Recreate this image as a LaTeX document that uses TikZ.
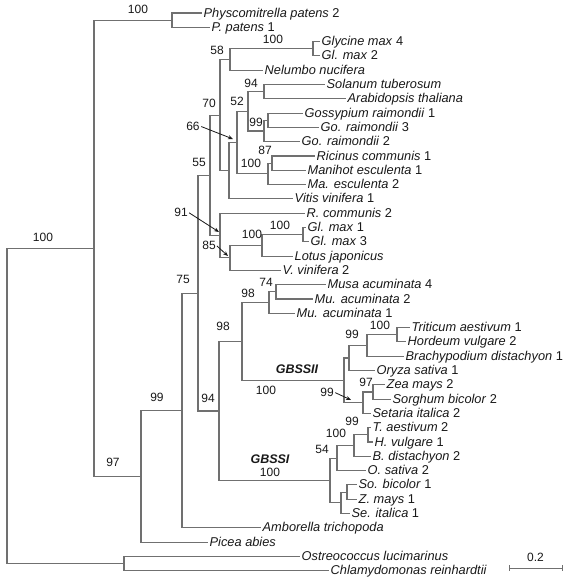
\documentclass[tikz,border=0pt]{standalone}
\usepackage{fontspec}
\setmainfont{Liberation Sans}
\usetikzlibrary{positioning,arrows.meta,calc}
\definecolor{branchc}{RGB}{112,112,112}
\definecolor{inkc}{RGB}{25,25,25}
\tikzset{
  br/.style     = {draw=branchc, line width=1.1pt},
  leaf/.style   = {anchor=west, inner xsep=1.5pt, inner ysep=0pt, text height=9pt,
                   text depth=1pt, font=\fontsize{12.8}{14}\selectfont, text=inkc},
  bs/.style     = {inner sep=0pt, font=\fontsize{12}{14}\selectfont, text=inkc},
  grp/.style    = {inner sep=0pt, font=\fontsize{12.5}{14}\selectfont\bfseries\itshape, text=inkc},
  ptr/.style    = {-{Stealth[length=5pt,width=4pt]}, line width=0.8pt, draw=inkc, shorten <=1.5pt},
}
\newcommand{\taxon}[2]{\textit{#1}\ #2}

\begin{document}
\begin{tikzpicture}[x=1pt,y=-1pt]
\path[fill=white] (0,0) rectangle (568,581);
\useasboundingbox (0,0) rectangle (568,581);

% leaves
\node[leaf] (ppat2) at (202,13.0) {\taxon{Physcomitrella patens}{2}};
\node[leaf] (ppat1) at (210,27.3) {\taxon{P. patens}{1}};
\node[leaf] (gmax4) at (320,41.6) {\taxon{Glycine max}{4}};
\node[leaf] (gmax2) at (320,55.9) {\taxon{Gl. max}{2}};
\node[leaf] (nnuc)  at (263,70.2) {\textit{Nelumbo nucifera}};
\node[leaf] (stub)  at (325,84.5) {\textit{Solanum tuberosum}};
\node[leaf] (atha)  at (346,98.8) {\textit{Arabidopsis thaliana}};
\node[leaf] (grai1) at (303,113.1) {\taxon{Gossypium raimondii}{1}};
\node[leaf] (grai3) at (319,127.4) {\taxon{Go. raimondii}{3}};
\node[leaf] (grai2) at (300,141.7) {\taxon{Go. raimondii}{2}};
\node[leaf] (rcom1) at (315,156.0) {\taxon{Ricinus communis}{1}};
\node[leaf] (mesc1) at (306,170.3) {\taxon{Manihot esculenta}{1}};
\node[leaf] (mesc2) at (306,184.6) {\taxon{Ma. esculenta}{2}};
\node[leaf] (vvin1) at (293,198.9) {\taxon{Vitis vinifera}{1}};
\node[leaf] (rcom2) at (305,213.2) {\taxon{R. communis}{2}};
\node[leaf] (gmax1) at (306,227.5) {\taxon{Gl. max}{1}};
\node[leaf] (gmax3) at (309,241.8) {\taxon{Gl. max}{3}};
\node[leaf] (ljap)  at (293,256.1) {\textit{Lotus japonicus}};
\node[leaf] (vvin2) at (281,270.4) {\taxon{V. vinifera}{2}};
\node[leaf] (macu4) at (326,284.7) {\taxon{Musa acuminata}{4}};
\node[leaf] (macu2) at (313,299.0) {\taxon{Mu. acuminata}{2}};
\node[leaf] (macu1) at (295,313.3) {\taxon{Mu. acuminata}{1}};
\node[leaf] (taes1) at (410,327.6) {\taxon{Triticum aestivum}{1}};
\node[leaf] (hvul2) at (406,341.9) {\taxon{Hordeum vulgare}{2}};
\node[leaf] (bdis1) at (404,356.2) {\taxon{Brachypodium distachyon}{1}};
\node[leaf] (osat1) at (375,370.5) {\taxon{Oryza sativa}{1}};
\node[leaf] (zmay2) at (385,384.8) {\taxon{Zea mays}{2}};
\node[leaf] (sbic2) at (391,399.1) {\taxon{Sorghum bicolor}{2}};
\node[leaf] (sita2) at (371,413.4) {\taxon{Setaria italica}{2}};
\node[leaf] (taes2) at (371,427.7) {\taxon{T. aestivum}{2}};
\node[leaf] (hvul1) at (373,442.0) {\taxon{H. vulgare}{1}};
\node[leaf] (bdis2) at (371,456.3) {\taxon{B. distachyon}{2}};
\node[leaf] (osat2) at (366,470.6) {\taxon{O. sativa}{2}};
\node[leaf] (sbic1) at (357,484.9) {\taxon{So. bicolor}{1}};
\node[leaf] (zmay1) at (357,499.2) {\taxon{Z. mays}{1}};
\node[leaf] (sita1) at (350,513.5) {\taxon{Se. italica}{1}};
\node[leaf] (atri)  at (261,527.8) {\textit{Amborella trichopoda}};
\node[leaf] (pabi)  at (208,542.1) {\textit{Picea abies}};
\node[leaf] (oluc)  at (300,556.4) {\textit{Ostreococcus lucimarinus}};
\node[leaf] (crei)  at (329,570.7) {\textit{Chlamydomonas reinhardtii}};

% internal nodes
\coordinate (nroot)  at (7,405.9);
\coordinate (nall)   at (94,248.2);
\coordinate (nmoss)  at (172,20.15);
\coordinate (nchl)   at (124,563.55);
\coordinate (nseed)  at (141,476.3);
\coordinate (nang)   at (182,410.45);
\coordinate (nc75)   at (198,293.1);
\coordinate (nd55)   at (210,175.3);
\coordinate (nf70)   at (220,115.1);
\coordinate (nh58)   at (230,59.5);
\coordinate (ngly)   at (313,48.75);
\coordinate (ni66)   at (229,170.75);
\coordinate (nk66)   at (237,142.6);
\coordinate (nr52)   at (248,111.3);
\coordinate (nl94)   at (264,91.65);
\coordinate (nq99)   at (264,131.0);
\coordinate (npg)    at (268,120.25);
\coordinate (nm100)  at (268,173.9);
\coordinate (ns87)   at (272,163.15);
\coordinate (ng91)   at (220,235.55);
\coordinate (ng85)   at (230,257.9);
\coordinate (nt100)  at (262,245.4);
\coordinate (nu100)  at (303,234.65);
\coordinate (ne94)   at (219,410.95);
\coordinate (nv98)   at (242,341.5);
\coordinate (nw98)   at (269,302.6);
\coordinate (nx74)   at (276,291.85);
\coordinate (ngbss2) at (344,380.35);
\coordinate (no99)   at (349,358.0);
\coordinate (ny99)   at (367,345.5);
\coordinate (naa100) at (397,334.75);
\coordinate (nz99)   at (363,402.7);
\coordinate (nbb97)  at (373,391.95);
\coordinate (ngbss1) at (330,480.45);
\coordinate (ncc54)  at (337,458.1);
\coordinate (nee100) at (354,445.6);
\coordinate (nff99)  at (368,434.85);
\coordinate (ngg)    at (341,502.8);
\coordinate (nhh)    at (347,492.05);

% branches
\draw[br] (nroot) |- (nall);   \draw[br] (nroot) |- (nchl);
\draw[br] (nall) |- (nmoss);   \draw[br] (nall) |- (nseed);
\draw[br] (nmoss) |- (ppat2);  \draw[br] (nmoss) |- (ppat1);
\draw[br] (nchl) |- (oluc);    \draw[br] (nchl) |- (crei);
\draw[br] (nseed) |- (nang);   \draw[br] (nseed) |- (pabi);
\draw[br] (nang) |- (nc75);    \draw[br] (nang) |- (atri);
\draw[br] (nc75) |- (nd55);    \draw[br] (nc75) |- (ne94);
\draw[br] (nd55) |- (nf70);    \draw[br] (nd55) |- (ng91);
\draw[br] (nf70) |- (nh58);    \draw[br] (nf70) |- (ni66);
\draw[br] (nh58) |- (ngly);    \draw[br] (nh58) |- (nnuc);
\draw[br] (ngly) |- (gmax4);   \draw[br] (ngly) |- (gmax2);
\draw[br] (ni66) |- (nk66);    \draw[br] (ni66) |- (vvin1);
\draw[br] (nk66) |- (nr52);    \draw[br] (nk66) |- (nm100);
\draw[br] (nr52) |- (nl94);    \draw[br] (nr52) |- (nq99);
\draw[br] (nl94) |- (stub);    \draw[br] (nl94) |- (atha);
\draw[br] (nq99) |- (npg);     \draw[br] (nq99) |- (grai2);
\draw[br] (npg) |- (grai1);    \draw[br] (npg) |- (grai3);
\draw[br] (nm100) |- (ns87);   \draw[br] (nm100) |- (mesc2);
\draw[br] (ns87) |- (rcom1);   \draw[br] (ns87) |- (mesc1);
\draw[br] (ng91) |- (rcom2);   \draw[br] (ng91) |- (ng85);
\draw[br] (ng85) |- (nt100);   \draw[br] (ng85) |- (vvin2);
\draw[br] (nt100) |- (nu100);  \draw[br] (nt100) |- (ljap);
\draw[br] (nu100) |- (gmax1);  \draw[br] (nu100) |- (gmax3);
\draw[br] (ne94) |- (nv98);    \draw[br] (ne94) |- (ngbss1);
\draw[br] (nv98) |- (nw98);    \draw[br] (nv98) |- (ngbss2);
\draw[br] (nw98) |- (nx74);    \draw[br] (nw98) |- (macu1);
\draw[br] (nx74) |- (macu4);   \draw[br] (nx74) |- (macu2);
\draw[br] (ngbss2) |- (no99);  \draw[br] (ngbss2) |- (nz99);
\draw[br] (no99) |- (ny99);    \draw[br] (no99) |- (osat1);
\draw[br] (ny99) |- (naa100);  \draw[br] (ny99) |- (bdis1);
\draw[br] (naa100) |- (taes1); \draw[br] (naa100) |- (hvul2);
\draw[br] (nz99) |- (nbb97);   \draw[br] (nz99) |- (sita2);
\draw[br] (nbb97) |- (zmay2);  \draw[br] (nbb97) |- (sbic2);
\draw[br] (ngbss1) |- (ncc54); \draw[br] (ngbss1) |- (ngg);
\draw[br] (ncc54) |- (nee100); \draw[br] (ncc54) |- (osat2);
\draw[br] (nee100) |- (nff99); \draw[br] (nee100) |- (bdis2);
\draw[br] (nff99) |- (taes2);  \draw[br] (nff99) |- (hvul1);
\draw[br] (ngg) |- (nhh);      \draw[br] (ngg) |- (sita1);
\draw[br] (nhh) |- (sbic1);    \draw[br] (nhh) |- (zmay1);

% bootstrap values
\node[bs] (l100a)  at (43,237)  {100};
\node[bs] (l100m)  at (138,9)   {100};
\node[bs] (l97)    at (113,462) {97};
\node[bs] (l99a)   at (157,397) {99};
\node[bs] (l75)    at (183,279) {75};
\node[bs] (l55)    at (199,162) {55};
\node[bs] (l70)    at (209,103) {70};
\node[bs] (l58)    at (217,50)  {58};
\node[bs] (l100g)  at (273,39)  {100};
\node[bs] (l94d)   at (251,83)  {94};
\node[bs] (l52)    at (237,101) {52};
\node[bs] (l99g)   at (256,122) {99};
\node[bs] (l87)    at (265,150) {87};
\node[bs] (l100r)  at (251,163) {100};
\node[bs] (l66)    at (193,126) {66};
\node[bs] (l91)    at (181,212) {91};
\node[bs] (l85)    at (209,245) {85};
\node[bs] (l100l)  at (252,234) {100};
\node[bs] (l100x)  at (280,225) {100};
\node[bs] (l74)    at (266,282) {74};
\node[bs] (l98m)   at (248,293) {98};
\node[bs] (l98v)   at (223,326) {98};
\node[bs] (l94m)   at (208,398) {94};
\node[bs] (l100s2) at (266,390) {100};
\node[bs] (l99y)   at (352,334) {99};
\node[bs] (l100t)  at (380,325) {100};
\node[bs] (l99z)   at (327,392) {99};
\node[bs] (l97z)   at (366,382) {97};
\node[bs] (l100s1) at (270,472) {100};
\node[bs] (l54)    at (322,449) {54};
\node[bs] (l100b)  at (336,433) {100};
\node[bs] (l99t)   at (352,421) {99};
\node[grp] (gbss2) at (297,369) {GBSSII};
\node[grp] (gbss1) at (270,459) {GBSSI};

% pointers to short branches
\coordinate (a66) at (233,139);
\coordinate (a91) at (219,232);
\coordinate (a85) at (228,256);
\coordinate (a99) at (351,400);
\draw[ptr] (l66.east) -- (a66);
\draw[ptr] (l91.east) -- (a91);
\draw[ptr] (l85.east) -- (a85);
\draw[ptr] (l99z.east) -- (a99);

% scale bar
\coordinate (sbl) at (509,568);
\coordinate (sbr) at (562,568);
\coordinate (sbm) at ($(sbl)!0.5!(sbr)$);
\draw[br, line width=0.9pt] (sbl) -- (sbr);
\draw[br, line width=0.9pt] ([yshift=3pt]sbl) -- ([yshift=-3pt]sbl);
\draw[br, line width=0.9pt] ([yshift=3pt]sbr) -- ([yshift=-3pt]sbr);
\node[bs, above=6pt of sbm] (sblab) {0.2};

\end{tikzpicture}
\end{document}
